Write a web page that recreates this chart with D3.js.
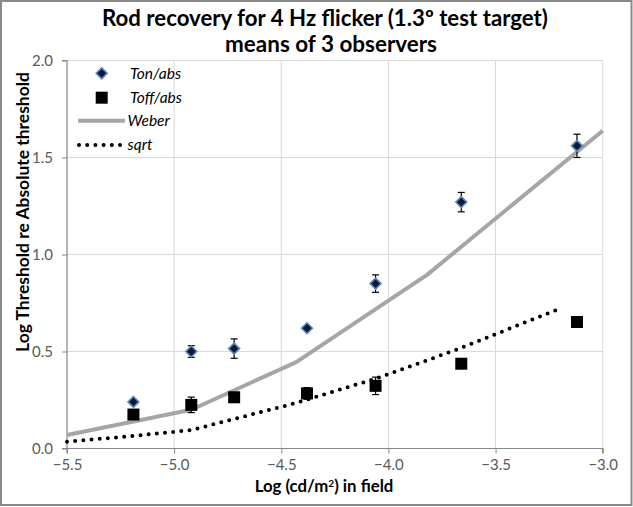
<!DOCTYPE html>
<html>
<head>
<meta charset="utf-8">
<script src="https://cdn.jsdelivr.net/npm/d3@7/dist/d3.min.js"></script>
<style>
  html, body { margin: 0; padding: 0; background: #fff; }
  svg { display: block; }
  text { font-family: Lato, "Open Sans", sans-serif; }
</style>
</head>
<body>
<svg id="chart" width="633" height="507"></svg>
<script>
// ---- data ----
const titleLines = ["Rod recovery for 4 Hz flicker (1.3\u00BA test target)", "means of 3 observers"];
const xLabel = "Log (cd/m\u00B2) in field";
const yLabel = "Log Threshold re Absolute threshold";
const xTicks = [-5.5, -5.0, -4.5, -4.0, -3.5, -3.0];
const yTicks = [0.0, 0.5, 1.0, 1.5, 2.0];

const tonX   = [-5.19, -4.92, -4.72, -4.38, -4.06, -3.66, -3.12];
const tonY   = [0.24, 0.50, 0.515, 0.62, 0.85, 1.27, 1.56];
const tonErr = [0.01, 0.03, 0.05, 0.01, 0.045, 0.05, 0.06];

const toffX   = [-5.19, -4.92, -4.72, -4.38, -4.06, -3.66, -3.12];
const toffY   = [0.175, 0.225, 0.264, 0.284, 0.323, 0.437, 0.652];
const toffErr = [0.01, 0.04, 0.01, 0.03, 0.045, 0.01, 0.01];

const weberX = [-5.5, -4.92, -4.43, -3.82, -3.0];
const weberY = [0.07, 0.20, 0.445, 0.895, 1.638];

const sqrtX = [-5.5, -5.2, -4.92, -4.43, -4.06, -3.68, -3.21];
const sqrtY = [0.035, 0.064, 0.095, 0.235, 0.36, 0.51, 0.717];

const legendItems = ["Ton/abs", "Toff/abs", "Weber", "sqrt"];

// ---- layout ----
const svg = d3.select("#chart");
const W = 633, H = 507;
const plot = { left: 67, right: 602.7, top: 60.5, bottom: 448.5 };

const x = d3.scaleLinear().domain([-5.5, -3.0]).range([plot.left, plot.right]);
const y = d3.scaleLinear().domain([0, 2]).range([plot.bottom, plot.top]);

// outer border
svg.append("rect").attr("x", 1).attr("y", 1).attr("width", W - 2.5).attr("height", H - 3)
  .attr("fill", "#fff").attr("stroke", "#8a8a8a").attr("stroke-width", 2);

// gridlines
const grid = svg.append("g");
grid.selectAll("line.h").data(yTicks.filter(d => d > 0)).join("line")
  .attr("x1", plot.left).attr("x2", plot.right)
  .attr("y1", d => y(d)).attr("y2", d => y(d))
  .attr("stroke", "#d9d9d9").attr("stroke-width", 1);
grid.selectAll("line.v").data(xTicks.filter(d => d > -5.5)).join("line")
  .attr("y1", plot.top).attr("y2", plot.bottom)
  .attr("x1", d => x(d)).attr("x2", d => x(d))
  .attr("stroke", "#d9d9d9").attr("stroke-width", 1);

// axes
const xAxis = d3.axisBottom(x).tickValues(xTicks).tickFormat(d3.format(".1f")).tickSize(5).tickPadding(6);
const yAxis = d3.axisLeft(y).tickValues(yTicks).tickFormat(d3.format(".1f")).tickSize(5).tickPadding(9);

const gx = svg.append("g").attr("transform", `translate(0,${plot.bottom})`).call(xAxis);
const gy = svg.append("g").attr("transform", `translate(${plot.left},0)`).call(yAxis);
[gx, gy].forEach(g => {
  g.select(".domain").attr("stroke", "#868686").attr("stroke-width", 1.2);
  g.selectAll(".tick line").attr("stroke", "#868686");
  g.selectAll(".tick text").attr("fill", "#595959").style("font-size", "15px")
    .style("font-family", "Lato, sans-serif");
});
gx.select(".domain").attr("d", `M${plot.left},5V0H${plot.right}V5`);
gy.select(".domain").attr("d", `M-5,${plot.top}H0V${plot.bottom}H-5`);

// lines
const lineGen = d3.line().x(d => x(d[0])).y(d => y(d[1]));
svg.append("path").datum(weberX.map((v, i) => [v, weberY[i]]))
  .attr("d", lineGen).attr("fill", "none").attr("stroke", "#a6a6a6")
  .attr("stroke-width", 4).attr("stroke-linejoin", "round");
svg.append("path").datum(sqrtX.map((v, i) => [v, sqrtY[i]]))
  .attr("d", lineGen).attr("fill", "none").attr("stroke", "#000")
  .attr("stroke-width", 4).attr("stroke-linecap", "round").attr("stroke-dasharray", "0 8.2");

// error bars
function errorBars(xs, ys, es) {
  const g = svg.append("g").attr("stroke", "#000").attr("stroke-width", 1.2);
  xs.forEach((xv, i) => {
    const cx = x(xv), y1 = y(ys[i] + es[i]), y2 = y(ys[i] - es[i]);
    g.append("line").attr("x1", cx).attr("x2", cx).attr("y1", y1).attr("y2", y2);
    g.append("line").attr("x1", cx - 3.5).attr("x2", cx + 3.5).attr("y1", y1).attr("y2", y1);
    g.append("line").attr("x1", cx - 3.5).attr("x2", cx + 3.5).attr("y1", y2).attr("y2", y2);
  });
}
errorBars(toffX, toffY, toffErr);
errorBars(tonX, tonY, tonErr);

// markers
const diamond = d3.symbol().type(d3.symbolDiamond2).size(76);
svg.append("g").selectAll("path").data(tonX.map((v, i) => [v, tonY[i]])).join("path")
  .attr("d", diamond)
  .attr("transform", d => `translate(${x(d[0])},${y(d[1])})`)
  .attr("fill", "#0d1a30").attr("stroke", "#5a88c4").attr("stroke-width", 1.6);
svg.append("g").selectAll("rect").data(toffX.map((v, i) => [v, toffY[i]])).join("rect")
  .attr("x", d => x(d[0]) - 6).attr("y", d => y(d[1]) - 6)
  .attr("width", 12).attr("height", 12).attr("fill", "#000");

// legend
const lg = svg.append("g");
const legY = [73.3, 97.7, 120.7, 145];
lg.append("path").attr("d", diamond).attr("transform", `translate(101.7,${legY[0]})`)
  .attr("fill", "#0d1a30").attr("stroke", "#5a88c4").attr("stroke-width", 1.6);
lg.append("rect").attr("x", 95.7).attr("y", legY[1] - 6).attr("width", 12).attr("height", 12).attr("fill", "#000");
lg.append("line").attr("x1", 78).attr("x2", 125).attr("y1", legY[2]).attr("y2", legY[2])
  .attr("stroke", "#a6a6a6").attr("stroke-width", 4);
lg.append("line").attr("x1", 79).attr("x2", 125).attr("y1", legY[3]).attr("y2", legY[3])
  .attr("stroke", "#000").attr("stroke-width", 4).attr("stroke-linecap", "round").attr("stroke-dasharray", "0 8.2");
lg.selectAll("text").data(legendItems).join("text")
  .attr("x", (d, i) => i < 2 ? 130 : 127.5).attr("y", (d, i) => legY[i]).attr("dy", "0.35em")
  .style("font-size", "15.5px").style("font-style", "italic").attr("fill", "#000")
  .text(d => d);

// titles
function fitText(sel, target, base) {
  sel.style("font-size", base + "px");
  const w = sel.node().getComputedTextLength();
  sel.style("font-size", (base * target / w).toFixed(2) + "px");
}
const t1 = svg.append("text").attr("x", 325).attr("y", 26).attr("text-anchor", "middle")
  .style("font-weight", "bold").attr("fill", "#000").text(titleLines[0]);
fitText(t1, 446, 20);
const t2 = svg.append("text").attr("x", 331).attr("y", 51.5).attr("text-anchor", "middle")
  .style("font-weight", "bold").attr("fill", "#000").text(titleLines[1]);
fitText(t2, 212, 20);

const xl = svg.append("text").attr("x", 324).attr("y", 492).attr("text-anchor", "middle")
  .style("font-weight", "bold").style("font-size", "14px").attr("fill", "#000");
xl.append("tspan").text("Log (cd/m");
xl.append("tspan").text("2").attr("dy", -5).style("font-size", "10px");
xl.append("tspan").text(") in field").attr("dy", 5);
fitText(xl, 140, 14);

const yl = svg.append("text").attr("transform", "translate(23,212) rotate(-90)")
  .attr("text-anchor", "middle").attr("dy", "0.35em")
  .style("font-weight", "bold").attr("fill", "#000").text(yLabel);
fitText(yl, 280, 14);
</script>
</body>
</html>
